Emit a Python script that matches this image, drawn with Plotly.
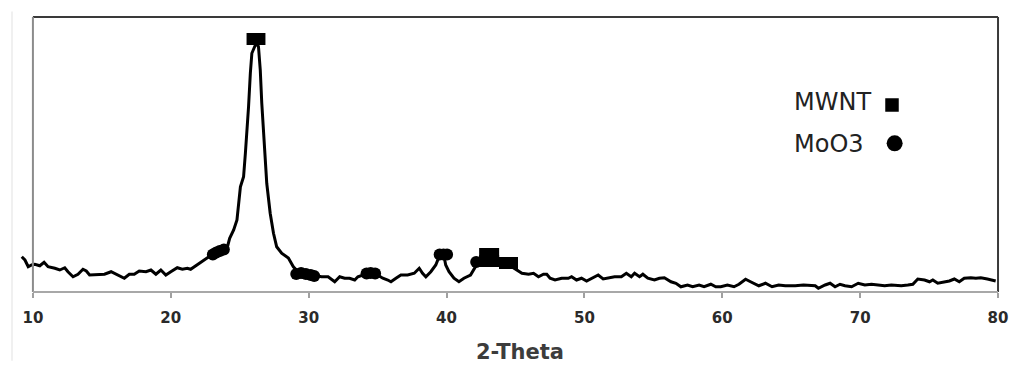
import plotly.graph_objects as go

# XRD pattern: 2-theta (deg) and intensity (a.u.)
two_theta = [
    9.19, 9.42, 9.66, 9.91, 10.14, 10.50, 10.81, 11.10, 11.59, 11.95,
    12.31, 12.54, 12.91, 13.27, 13.63, 13.87, 14.11, 14.71, 15.19, 15.67,
    16.03, 16.63, 16.99, 17.35, 17.71, 18.20, 18.56, 18.92, 19.28, 19.64,
    20.00, 20.47, 20.84, 21.20, 21.44, 21.80, 22.16, 22.52, 22.76, 23.36,
    23.72, 24.08, 24.27, 24.56, 24.80, 25.05, 25.28, 25.41, 25.52, 25.64,
    25.77, 25.88, 26.08, 26.24, 26.36, 26.49, 26.60, 26.80, 26.96, 27.21,
    27.45, 27.68, 28.04, 28.53, 28.89, 29.25, 29.97, 30.54, 30.93, 31.41,
    31.89, 32.25, 32.61, 32.97, 33.34, 33.57, 34.15, 34.87, 35.38, 35.74,
    35.97, 36.33, 36.69, 37.18, 37.66, 38.02, 38.26, 38.50, 38.86, 39.22,
    39.46, 39.77, 39.94, 40.18, 40.54, 40.90, 41.26, 41.74, 42.10, 42.44,
    42.95, 43.45, 43.88, 44.53, 45.23, 45.47, 45.95, 46.31, 46.67, 47.03,
    47.27, 47.51, 47.87, 48.35, 48.83, 49.07, 49.43, 49.79, 50.16, 50.52,
    51.00, 51.36, 51.72, 52.19, 52.68, 53.04, 53.40, 53.64, 54.00, 54.24,
    54.60, 55.08, 55.44, 55.80, 56.28, 56.64, 57.00, 57.48, 57.85, 58.32,
    58.68, 59.17, 59.53, 59.89, 60.37, 60.85, 61.21, 61.69, 62.05, 62.65,
    63.13, 63.61, 64.09, 64.57, 65.29, 65.89, 66.74, 66.97, 67.46, 67.82,
    68.18, 68.54, 68.90, 69.38, 69.86, 70.34, 70.82, 71.30, 71.78, 72.26,
    72.98, 73.46, 73.82, 74.18, 74.67, 75.03, 75.27, 75.63, 76.11, 76.47,
    76.83, 77.19, 77.55, 78.03, 78.39, 78.75, 79.23, 79.71, 79.83,
]
intensity = [
    141, 128, 101, 108, 111, 105, 119, 101, 95, 88,
    97, 81, 61, 71, 91, 84, 68, 71, 71, 81,
    71, 55, 71, 71, 84, 81, 88, 71, 88, 68,
    81, 97, 91, 95, 91, 105, 121, 132, 141, 155,
    168, 175, 215, 248, 288, 421, 461, 555, 635, 741,
    875, 955, 981, 1000, 981, 888, 755, 581, 435, 315,
    235, 181, 155, 136, 101, 80, 72, 64, 61, 61,
    41, 61, 55, 55, 48, 61, 72, 72, 55, 48,
    41, 55, 68, 68, 75, 95, 75, 61, 81, 108,
    141, 156, 108, 81, 55, 41, 55, 68, 101, 120,
    136, 128, 112, 108, 81, 75, 71, 75, 61, 71,
    71, 55, 48, 55, 55, 61, 48, 55, 44, 55,
    68, 52, 55, 61, 61, 75, 61, 75, 61, 71,
    55, 48, 55, 57, 41, 35, 21, 28, 21, 28,
    21, 31, 21, 21, 28, 21, 31, 51, 41, 25,
    35, 21, 28, 25, 25, 28, 25, 15, 28, 35,
    21, 31, 25, 21, 35, 28, 31, 28, 25, 28,
    25, 28, 31, 52, 48, 41, 48, 35, 41, 44,
    52, 41, 55, 57, 55, 57, 52, 48, 44,
]

# Peak assignments
mwnt_theta = [25.93, 26.43, 42.80, 43.38, 42.80, 43.38, 44.24, 44.75]
mwnt_int = [1012, 1012, 152, 152, 124, 124, 116, 116]

moo3_theta = [23.05, 23.30, 23.55, 23.85, 29.10, 29.45, 29.80, 30.15, 30.40,
              34.20, 34.50, 34.82, 39.50, 39.78, 40.04, 42.15]
moo3_int = [150, 158, 164, 170, 72, 76, 72, 68, 64, 74, 76, 74, 150, 150, 150, 120]

x_ticks = [10, 20, 30, 40, 50, 60, 70, 80]
x_title = "2-Theta"
legend_labels = ["MWNT", "MoO3"]

fig = go.Figure()
fig.add_trace(go.Scatter(
    x=two_theta, y=intensity, mode="lines",
    line=dict(color="black", width=3), hoverinfo="skip",
))
fig.add_trace(go.Scatter(
    x=moo3_theta, y=moo3_int, mode="markers",
    marker=dict(symbol="circle", size=12, color="black", line=dict(width=0)),
    hoverinfo="skip",
))
fig.add_trace(go.Scatter(
    x=mwnt_theta, y=mwnt_int, mode="markers",
    marker=dict(symbol="square", size=12, color="black", line=dict(width=0)),
    hoverinfo="skip",
))

# Chart frame
frame = [
    dict(x0=10, x1=80, y0=1, y1=1, yref="paper", color="#3a3a3a", w=2),
    dict(x0=10, x1=10, y0=0, y1=1, yref="paper", color="#8c8c8c", w=2),
    dict(x0=80, x1=80, y0=0, y1=1, yref="paper", color="#3a3a3a", w=2),
    dict(x0=10, x1=80, y0=0, y1=0, yref="paper", color="#a8a8a8", w=2),
]
shapes = []
for f in frame:
    shapes.append(dict(type="line", xref="x", yref=f["yref"],
                       x0=f["x0"], x1=f["x1"], y0=f["y0"], y1=f["y1"],
                       line=dict(color=f["color"], width=f["w"]), layer="above"))

# Legend keys (square and dot to the right of the labels)
shapes.append(dict(type="rect", xref="paper", yref="paper",
                   xsizemode="pixel", ysizemode="pixel",
                   xanchor=0.8881, yanchor=0.68,
                   x0=-6.75, x1=6.75, y0=-6.75, y1=6.75,
                   fillcolor="black", line=dict(width=0)))
shapes.append(dict(type="circle", xref="paper", yref="paper",
                   xsizemode="pixel", ysizemode="pixel",
                   xanchor=0.8908, yanchor=0.5407,
                   x0=-8, x1=8, y0=-8, y1=8,
                   fillcolor="black", line=dict(width=0)))

# faint left edge line
shapes.append(dict(type="line", xref="paper", yref="paper",
                   x0=-0.0071, x1=-0.0071, y0=-0.25, y1=1.02,
                   line=dict(color="#f0f0f0", width=2)))

annotations = [
    dict(text=legend_labels[0], xref="paper", yref="paper", x=0.7864, y=0.6927,
         xanchor="left", yanchor="middle", showarrow=False,
         font=dict(family="DejaVu Sans", size=24, color="#222222")),
    dict(text=legend_labels[1], xref="paper", yref="paper", x=0.7864, y=0.5382,
         xanchor="left", yanchor="middle", showarrow=False,
         font=dict(family="DejaVu Sans", size=24, color="#222222")),
    dict(text=x_title, xref="x", yref="paper", x=45.3, y=0,
         xanchor="center", yanchor="middle", yshift=-60, showarrow=False,
         font=dict(family="DejaVu Sans", size=21, color="#3c3c3c", weight="bold")),
]

fig.update_layout(
    width=1016, height=365,
    margin=dict(l=19, r=8, t=17, b=73),
    paper_bgcolor="white", plot_bgcolor="white",
    showlegend=False,
    shapes=shapes, annotations=annotations,
    xaxis=dict(
        range=[8.9907, 80.2884], tickvals=x_ticks,
        ticktext=[str(v) for v in x_ticks],
        ticks="outside", ticklen=5, tickwidth=1.5, tickcolor="#a0a0a0",
        ticklabelstandoff=7,
        showgrid=False, zeroline=False, showline=False,
        tickfont=dict(family="DejaVu Sans", size=15, color="#2a2a2a", weight="bold"),
    ),
    yaxis=dict(range=[0, 1100], visible=False, showgrid=False, zeroline=False),
)

fig.write_html("out.html")
